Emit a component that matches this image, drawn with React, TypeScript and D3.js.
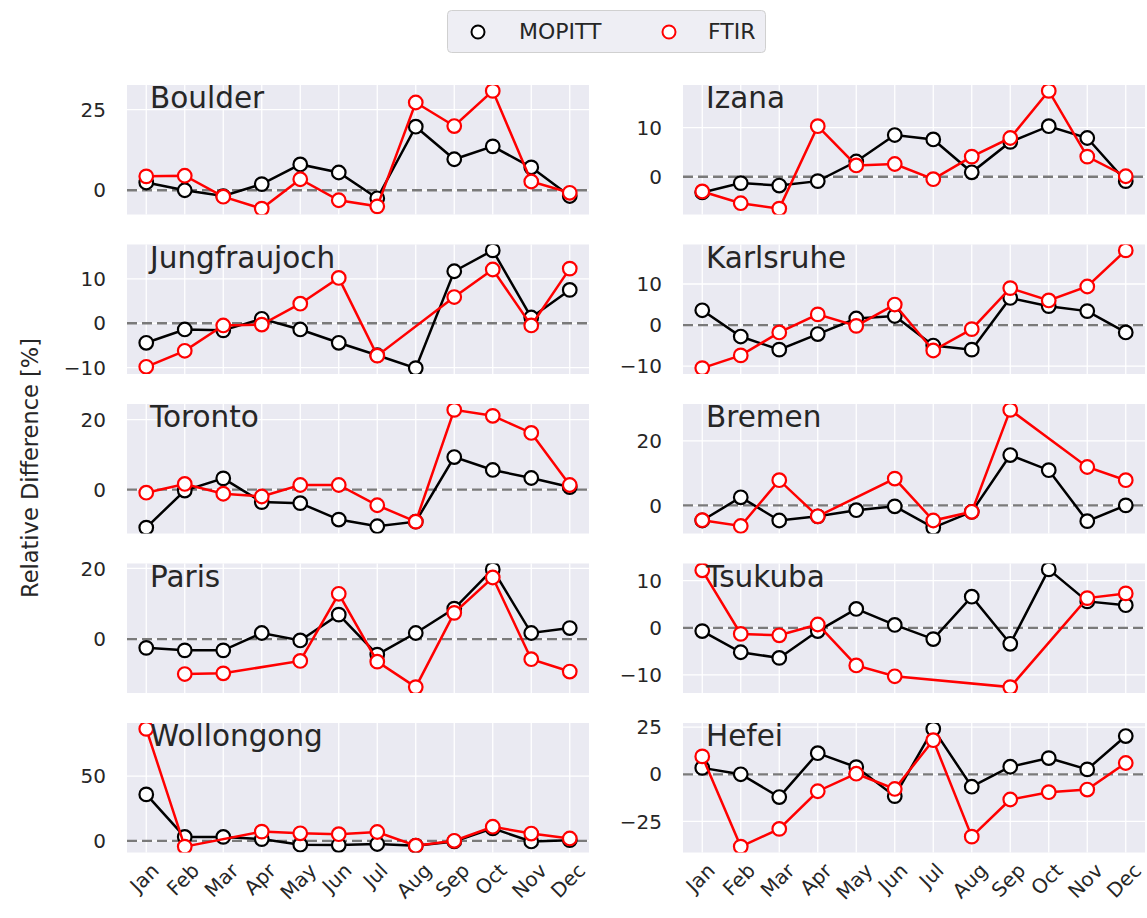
import { useRef, useEffect } from "react";
import * as d3 from "d3";

const months = ["Jan", "Feb", "Mar", "Apr", "May", "Jun", "Jul", "Aug", "Sep", "Oct", "Nov", "Dec"];

// relative difference [%] per month, null = no data
const boulderMopitt = [2.4, 0, -1.8, 1.9, 8.0, 5.5, -2.5, 19.7, 9.6, 13.6, 7.1, -1.8];
const boulderFtir = [4.3, 4.5, -2.0, -5.7, 3.4, -3.1, -5.0, 27.2, 19.9, 30.8, 2.7, -0.8];
const boulderTicks = [0, 25];

const izanaMopitt = [-3.2, -1.3, -1.8, -0.9, 3.1, 8.5, 7.6, 0.9, 7.1, 10.3, 7.9, -0.9];
const izanaFtir = [-3.0, -5.4, -6.5, 10.3, 2.3, 2.6, -0.5, 4.1, 7.9, 17.5, 4.1, 0.1];
const izanaTicks = [0, 10];

const jungfraujochMopitt = [-4.4, -1.4, -1.6, 1.0, -1.4, -4.4, -7.2, -10.1, 11.7, 16.4, 1.3, 7.5];
const jungfraujochFtir = [-9.8, -6.2, -0.5, -0.3, 4.4, 10.2, -7.3, null, 5.9, 12.1, -0.5, 12.3];
const jungfraujochTicks = [-10, 0, 10];

const karlsruheMopitt = [3.6, -2.8, -6.0, -2.2, 1.6, 2.2, -5.0, -6.0, 6.6, 4.6, 3.4, -1.8];
const karlsruheFtir = [-10.5, -7.4, -1.8, 2.6, -0.2, 5.0, -6.2, -1.0, 9.0, 6.0, 9.4, 18.2];
const karlsruheTicks = [-10, 0, 10];

const torontoMopitt = [-10.9, -0.3, 3.2, -3.6, -3.9, -8.6, -10.5, -9.2, 9.3, 5.6, 3.3, 0.7];
const torontoFtir = [-0.9, 1.6, -1.2, -2.0, 1.3, 1.3, -4.5, -9.2, 22.8, 21.1, 16.2, 1.3];
const torontoTicks = [0, 20];

const bremenMopitt = [-4.7, 2.5, -4.7, -3.4, -1.5, -0.3, -6.9, -2.0, 15.6, 10.9, -4.9, 0.0];
const bremenFtir = [-4.6, -6.4, 7.8, -3.4, null, 8.3, -4.7, -2.0, 29.6, null, 11.9, 7.8];
const bremenTicks = [0, 20];

const parisMopitt = [-2.5, -3.2, -3.2, 1.7, -0.4, 6.9, -4.4, 1.7, 8.6, 19.7, 1.7, 3.1];
const parisFtir = [null, -9.9, -9.7, null, -6.2, 12.8, -6.4, -13.6, 7.4, 17.4, -5.7, -9.2];
const parisTicks = [0, 20];

const tsukubaMopitt = [-0.7, -5.2, -6.4, -0.7, 4.0, 0.6, -2.4, 6.6, -3.4, 12.4, 5.6, 4.8];
const tsukubaFtir = [12.2, -1.3, -1.6, 0.7, -8.0, -10.3, null, null, -12.6, null, 6.3, 7.3];
const tsukubaTicks = [-10, 0, 10];

const wollongongMopitt = [35.9, 3.0, 3.0, 1.3, -3.0, -3.3, -2.5, -3.8, -0.5, 9.6, -0.5, 0.5];
const wollongongFtir = [86.6, -4.5, null, 7.1, 5.8, 5.1, 6.8, -3.8, 0.0, 10.9, 5.6, 1.8];
const wollongongTicks = [0, 50];

const hefeiMopitt = [3.4, 0.0, -12.1, 11.2, 3.8, -11.6, 24.1, -6.6, 4.0, 8.6, 2.6, 20.3];
const hefeiFtir = [9.5, -38.4, -29.0, -9.0, 0.3, -7.8, 18.1, -33.1, -13.4, -9.5, -8.1, 6.0];
const hefeiTicks = [-25, 0, 25];

const stations = [
  { name: "Boulder", mopitt: boulderMopitt, ftir: boulderFtir, ticks: boulderTicks },
  { name: "Izana", mopitt: izanaMopitt, ftir: izanaFtir, ticks: izanaTicks },
  { name: "Jungfraujoch", mopitt: jungfraujochMopitt, ftir: jungfraujochFtir, ticks: jungfraujochTicks },
  { name: "Karlsruhe", mopitt: karlsruheMopitt, ftir: karlsruheFtir, ticks: karlsruheTicks },
  { name: "Toronto", mopitt: torontoMopitt, ftir: torontoFtir, ticks: torontoTicks },
  { name: "Bremen", mopitt: bremenMopitt, ftir: bremenFtir, ticks: bremenTicks },
  { name: "Paris", mopitt: parisMopitt, ftir: parisFtir, ticks: parisTicks },
  { name: "Tsukuba", mopitt: tsukubaMopitt, ftir: tsukubaFtir, ticks: tsukubaTicks },
  { name: "Wollongong", mopitt: wollongongMopitt, ftir: wollongongFtir, ticks: wollongongTicks },
  { name: "Hefei", mopitt: hefeiMopitt, ftir: hefeiFtir, ticks: hefeiTicks },
];

const FONT = "DejaVu Sans";
const TEXT = "#262626";

const App = () => {
  const svgRef = useRef<SVGSVGElement>(null);

  useEffect(() => {
    const svg = d3.select(svgRef.current);
    svg.selectAll("*").remove();

    // panel grid
    const colX = [127, 683];
    const panelW = 462;
    const panelH = 129.5;
    const rowY = (i: number) => 85 + i * 159.5;

    const x = d3.scalePoint<string>().domain(months).range([0, panelW]).padding(0.5);
    const fmt = (v: number) => (v < 0 ? "\u2212" + Math.abs(v) : String(v));

    stations.forEach((st, idx) => {
      const col = idx % 2;
      const row = Math.floor(idx / 2);
      const left = colX[col];
      const top = rowY(row);

      const all = [...st.mopitt, ...st.ftir].filter((v) => v != null) as number[];
      const [lo, hi] = d3.extent(all) as [number, number];
      const pad = (hi - lo) * 0.05;
      const y = d3.scaleLinear().domain([lo - pad, hi + pad]).range([panelH, 0]);

      const g = svg.append("g").attr("transform", `translate(${left},${top})`);

      g.append("rect").attr("width", panelW).attr("height", panelH).attr("fill", "#EAEAF2");

      // grid
      g.selectAll(".vgrid")
        .data(months)
        .enter()
        .append("line")
        .attr("x1", (d) => x(d)!)
        .attr("x2", (d) => x(d)!)
        .attr("y1", 0)
        .attr("y2", panelH)
        .attr("stroke", "#fff")
        .attr("stroke-width", 1.3);

      g.selectAll(".hgrid")
        .data(st.ticks)
        .enter()
        .append("line")
        .attr("x1", 0)
        .attr("x2", panelW)
        .attr("y1", (d) => y(d))
        .attr("y2", (d) => y(d))
        .attr("stroke", "#fff")
        .attr("stroke-width", 1.3);

      // y tick labels
      g.selectAll(".ytick")
        .data(st.ticks)
        .enter()
        .append("text")
        .attr("x", -21)
        .attr("y", (d) => y(d))
        .attr("dy", "0.36em")
        .attr("text-anchor", "end")
        .attr("font-family", FONT)
        .attr("font-size", 20)
        .attr("fill", TEXT)
        .text((d) => fmt(d));

      const clipId = `clip-${idx}`;
      g.append("clipPath").attr("id", clipId).append("rect").attr("width", panelW).attr("height", panelH);

      const plot = g.append("g").attr("clip-path", `url(#${clipId})`);

      // zero line
      plot.append("line")
        .attr("x1", 0)
        .attr("x2", panelW)
        .attr("y1", y(0))
        .attr("y2", y(0))
        .attr("stroke", "#7a7a7a")
        .attr("stroke-width", 2.3)
        .attr("stroke-dasharray", "10,5");

      const drawSeries = (vals: (number | null)[], color: string) => {
        const pts = vals
          .map((v, i) => ({ m: months[i], v }))
          .filter((d) => d.v != null) as { m: string; v: number }[];
        const line = d3.line<{ m: string; v: number }>()
          .x((d) => x(d.m)!)
          .y((d) => y(d.v));
        plot.append("path")
          .datum(pts)
          .attr("fill", "none")
          .attr("stroke", color)
          .attr("stroke-width", 2.5)
          .attr("d", line);
        plot.selectAll(null)
          .data(pts)
          .enter()
          .append("circle")
          .attr("cx", (d) => x(d.m)!)
          .attr("cy", (d) => y(d.v))
          .attr("r", 6.8)
          .attr("fill", "#fff")
          .attr("stroke", color)
          .attr("stroke-width", 2.2);
      };
      drawSeries(st.mopitt, "#000");
      drawSeries(st.ftir, "#ff0000");

      // station name
      g.append("text")
        .attr("x", 23)
        .attr("y", 23)
        .attr("font-family", FONT)
        .attr("font-size", 29.5)
        .attr("fill", TEXT)
        .text(st.name);

      // month labels on bottom row only
      if (row === 4) {
        const fs = 20;
        months.forEach((m) => {
          const t = g.append("text")
            .attr("font-family", FONT)
            .attr("font-size", fs)
            .attr("fill", TEXT)
            .attr("text-anchor", "middle")
            .attr("dy", "0.36em")
            .text(m);
          const w = (t.node() as SVGTextElement).getComputedTextLength();
          const h = fs * 1.17;
          const cy = panelH + 6 + (w + h) * 0.3536;
          t.attr("transform", `translate(${x(m)! - 2},${cy}) rotate(-45)`);
        });
      }
    });

    // y axis label
    svg.append("text")
      .attr("transform", "translate(30,468) rotate(-90)")
      .attr("text-anchor", "middle")
      .attr("dy", "0.36em")
      .attr("font-family", FONT)
      .attr("font-size", 22.5)
      .attr("fill", TEXT)
      .text("Relative Difference [%]");

    // legend
    const lg = svg.append("g");
    lg.append("rect")
      .attr("x", 447.5)
      .attr("y", 10.5)
      .attr("width", 318)
      .attr("height", 42)
      .attr("rx", 4)
      .attr("fill", "#EEEEF4")
      .attr("stroke", "#D0D0D0");
    const items = [
      { label: "MOPITT", color: "#000", cx: 478, tx: 519 },
      { label: "FTIR", color: "#ff0000", cx: 669, tx: 708 },
    ];
    items.forEach((it) => {
      lg.append("circle")
        .attr("cx", it.cx)
        .attr("cy", 32)
        .attr("r", 6.5)
        .attr("fill", "#fff")
        .attr("stroke", it.color)
        .attr("stroke-width", 2);
      lg.append("text")
        .attr("x", it.tx)
        .attr("y", 31)
        .attr("dy", "0.36em")
        .attr("font-family", FONT)
        .attr("font-size", 22)
        .attr("fill", TEXT)
        .text(it.label);
    });
  }, []);

  return (
    <svg
      ref={svgRef}
      width={1147}
      height={918}
      style={{ position: "absolute", left: 0, top: 0, background: "#fff" }}
    ></svg>
  );
};

export default App;
